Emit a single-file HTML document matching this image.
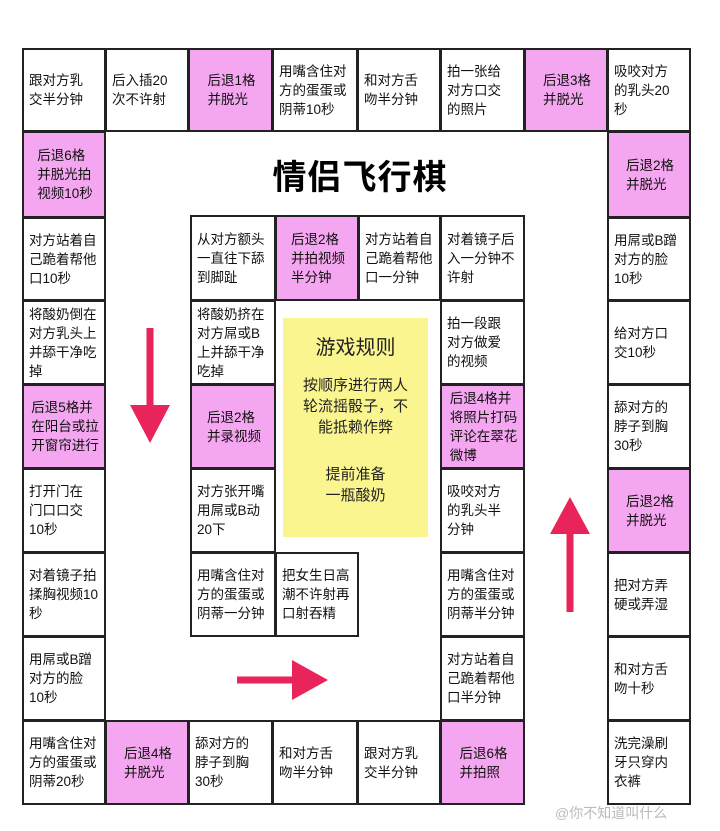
<!DOCTYPE html>
<html><head><meta charset="utf-8"><style>
body{margin:0;background:#fff;width:720px;height:831px;position:relative;overflow:hidden;font-family:"Liberation Sans","Noto Sans CJK SC",sans-serif;}
.c{position:absolute;box-sizing:border-box;border:2px solid #222;background:#fff;font-size:13.5px;line-height:19px;color:#111;padding:3px 3px 3px 5px;display:flex;align-items:center;white-space:nowrap;overflow:hidden;}
.p{background:#f5a6f0;justify-content:center;}
.t{position:absolute;left:0;width:720px;top:150px;text-align:center;font-size:34px;font-weight:bold;letter-spacing:1px;font-family:"Noto Sans CJK SC",sans-serif;}
.y{position:absolute;left:283px;top:318px;width:145px;height:219px;background:#fbf58f;text-align:center;font-size:15px;line-height:21px;color:#222;}
</style></head><body>
<div class="t">情侣飞行棋</div>
<div class="c" style="left:22px;top:48px;width:84px;height:84px">跟对方乳<br>交半分钟</div>
<div class="c" style="left:105px;top:48px;width:84px;height:84px">后入插20<br>次不许射</div>
<div class="c p" style="left:188px;top:48px;width:85px;height:84px">后退1格<br>并脱光</div>
<div class="c" style="left:272px;top:48px;width:86px;height:84px">用嘴含住对<br>方的蛋蛋或<br>阴蒂10秒</div>
<div class="c" style="left:357px;top:48px;width:84px;height:84px">和对方舌<br>吻半分钟</div>
<div class="c" style="left:440px;top:48px;width:85px;height:84px">拍一张给<br>对方口交<br>的照片</div>
<div class="c p" style="left:524px;top:48px;width:84px;height:84px">后退3格<br>并脱光</div>
<div class="c" style="left:607px;top:48px;width:84px;height:84px">吸咬对方<br>的乳头20<br>秒</div>
<div class="c p" style="left:22px;top:131px;width:84px;height:87px">后退6格<br>并脱光拍<br>视频10秒</div>
<div class="c" style="left:22px;top:217px;width:84px;height:84px">对方站着自<br>己跪着帮他<br>口10秒</div>
<div class="c" style="left:22px;top:300px;width:84px;height:85px">将酸奶倒在<br>对方乳头上<br>并舔干净吃<br>掉</div>
<div class="c p" style="left:22px;top:384px;width:84px;height:85px">后退5格并<br>在阳台或拉<br>开窗帘进行</div>
<div class="c" style="left:22px;top:468px;width:84px;height:85px">打开门在<br>门口口交<br>10秒</div>
<div class="c" style="left:22px;top:552px;width:84px;height:85px">对着镜子拍<br>揉胸视频10<br>秒</div>
<div class="c" style="left:22px;top:636px;width:84px;height:85px">用屌或B蹭<br>对方的脸<br>10秒</div>
<div class="c" style="left:22px;top:720px;width:84px;height:85px">用嘴含住对<br>方的蛋蛋或<br>阴蒂20秒</div>
<div class="c p" style="left:105px;top:720px;width:84px;height:85px">后退4格<br>并脱光</div>
<div class="c" style="left:188px;top:720px;width:85px;height:85px">舔对方的<br>脖子到胸<br>30秒</div>
<div class="c" style="left:272px;top:720px;width:86px;height:85px">和对方舌<br>吻半分钟</div>
<div class="c" style="left:357px;top:720px;width:84px;height:85px">跟对方乳<br>交半分钟</div>
<div class="c p" style="left:440px;top:720px;width:85px;height:85px">后退6格<br>并拍照</div>
<div class="c p" style="left:607px;top:131px;width:84px;height:87px">后退2格<br>并脱光</div>
<div class="c" style="left:607px;top:217px;width:84px;height:84px">用屌或B蹭<br>对方的脸<br>10秒</div>
<div class="c" style="left:607px;top:300px;width:84px;height:85px">给对方口<br>交10秒</div>
<div class="c" style="left:607px;top:384px;width:84px;height:85px">舔对方的<br>脖子到胸<br>30秒</div>
<div class="c p" style="left:607px;top:468px;width:84px;height:85px">后退2格<br>并脱光</div>
<div class="c" style="left:607px;top:552px;width:84px;height:85px">把对方弄<br>硬或弄湿</div>
<div class="c" style="left:607px;top:636px;width:84px;height:85px">和对方舌<br>吻十秒</div>
<div class="c" style="left:607px;top:720px;width:84px;height:85px">洗完澡刷<br>牙只穿内<br>衣裤</div>
<div class="c" style="left:190px;top:215px;width:86px;height:86px">从对方额头<br>一直往下舔<br>到脚趾</div>
<div class="c p" style="left:275px;top:215px;width:84px;height:86px">后退2格<br>并拍视频<br>半分钟</div>
<div class="c" style="left:358px;top:215px;width:83px;height:86px">对方站着自<br>己跪着帮他<br>口一分钟</div>
<div class="c" style="left:440px;top:215px;width:85px;height:86px">对着镜子后<br>入一分钟不<br>许射</div>
<div class="c" style="left:190px;top:300px;width:86px;height:85px">将酸奶挤在<br>对方屌或B<br>上并舔干净<br>吃掉</div>
<div class="c p" style="left:190px;top:384px;width:86px;height:85px">后退2格<br>并录视频</div>
<div class="c" style="left:190px;top:468px;width:86px;height:85px">对方张开嘴<br>用屌或B动<br>20下</div>
<div class="c" style="left:190px;top:552px;width:86px;height:85px">用嘴含住对<br>方的蛋蛋或<br>阴蒂一分钟</div>
<div class="c" style="left:275px;top:552px;width:84px;height:85px">把女生日高<br>潮不许射再<br>口射吞精</div>
<div class="c" style="left:440px;top:300px;width:85px;height:85px">拍一段跟<br>对方做爱<br>的视频</div>
<div class="c p" style="left:440px;top:384px;width:85px;height:85px">后退4格并<br>将照片打码<br>评论在翠花<br>微博</div>
<div class="c" style="left:440px;top:468px;width:85px;height:85px">吸咬对方<br>的乳头半<br>分钟</div>
<div class="c" style="left:440px;top:552px;width:85px;height:85px">用嘴含住对<br>方的蛋蛋或<br>阴蒂半分钟</div>
<div class="c" style="left:440px;top:636px;width:85px;height:85px">对方站着自<br>己跪着帮他<br>口半分钟</div>
<div class="y"><div style="font-size:20px;margin-top:20px">游戏规则</div><div style="margin-top:16px">按顺序进行两人<br>轮流摇骰子，不<br>能抵赖作弊</div><div style="margin-top:26px">提前准备<br>一瓶酸奶</div></div>
<svg style="position:absolute;left:0;top:0" width="720" height="831">
<g fill="#e8245a" stroke="#e8245a">
<line x1="150" y1="328" x2="150" y2="415" stroke-width="7"/><polygon points="130,405 170,405 150,443" stroke="none"/>
<line x1="237" y1="680" x2="300" y2="680" stroke-width="7"/><polygon points="292,660 292,700 328,680" stroke="none"/>
<line x1="570" y1="525" x2="570" y2="612" stroke-width="7"/><polygon points="550,534 590,534 570,497" stroke="none"/>
</g></svg>
<div style="position:absolute;left:555px;top:803px;font-size:14px;color:#bbb">@你不知道叫什么</div>
</body></html>
